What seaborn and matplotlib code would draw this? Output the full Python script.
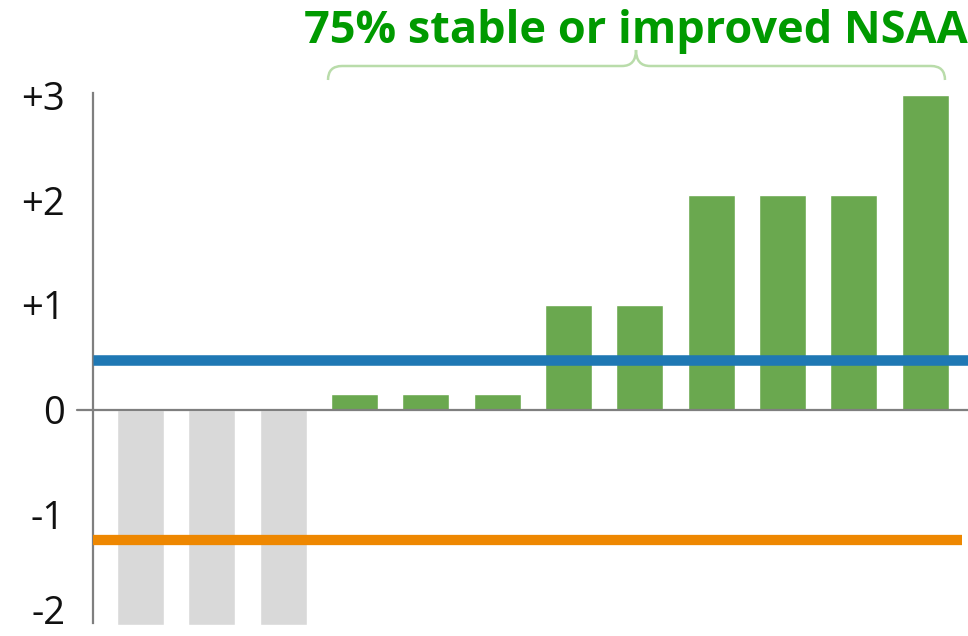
import matplotlib
matplotlib.use("Agg")
import matplotlib.pyplot as plt
import matplotlib.transforms as mtransforms
from matplotlib.path import Path
from matplotlib.patches import PathPatch
import seaborn as sns
import pandas as pd

# Per-patient change in NSAA score, sorted ascending
patients = [f"P{i}" for i in range(1, 13)]
nsaa_change = [-2.05, -2.05, -2.05, 0.15, 0.15, 0.15, 1.0, 1.0, 2.05, 2.05, 2.05, 3.0]
outcome = ["declined"] * 3 + ["stable/improved"] * 9

# Reference lines
treated_mean = 0.48
natural_history_mean = -1.24

y_ticks = [-2, -1, 0, 1, 2, 3]
y_tick_labels = ["-2", "-1", "0", "+1", "+2", "+3"]
headline = "75% stable or improved NSAA"

palette = {"declined": "#d9d9d9", "stable/improved": "#6aa84f"}
BLUE = "#1f78b4"
ORANGE = "#ee8700"
TITLE_GREEN = "#009a00"
BRACE_GREEN = "#b9dcaa"
AXIS_GREY = "#7f7f7f"

sns.set_theme(style="white")
plt.rcParams["font.family"] = ["Open Sans", "DejaVu Sans"]

W, H = 968, 636
fig = plt.figure(figsize=(W / 100, H / 100), dpi=100)
ax_left, ax_right, ax_top, ax_bottom = 93, 968, 93, 625
ax = fig.add_axes([ax_left / W, 1 - ax_bottom / H,
                   (ax_right - ax_left) / W, (ax_bottom - ax_top) / H])

df = pd.DataFrame({"patient": patients, "change": nsaa_change, "outcome": outcome})
sns.barplot(data=df, x="patient", y="change", hue="outcome", palette=palette,
            dodge=False, width=0.66, saturation=1, legend=False, ax=ax, zorder=2)

ax.set_xlim(-0.666, 11.6)
ax.set_ylim(-2.05, 3.02)

# zero baseline, slightly extended past the left spine
ax.axhline(0, xmin=-16 / (ax_right - ax_left), xmax=1, color=AXIS_GREY,
           lw=1.6, clip_on=False, zorder=3)

ax.axhline(treated_mean, color=BLUE, lw=7.6, zorder=4, solid_capstyle="butt")
ax.axhline(natural_history_mean, xmax=0.993, color=ORANGE, lw=7.4, zorder=4,
           solid_capstyle="butt")

for s in ["top", "right", "bottom"]:
    ax.spines[s].set_visible(False)
ax.spines["left"].set_color(AXIS_GREY)
ax.spines["left"].set_linewidth(1.6)
ax.spines["left"].set_bounds(-2.03, 3.02)

ax.set_xticks([])
ax.set_xlabel("")
ax.set_ylabel("")
ax.set_yticks(y_ticks)
ax.set_yticklabels(y_tick_labels, fontsize=27.5, color="#111111")
ax.tick_params(axis="y", length=0, pad=20)
# lowest label sits on the canvas edge, nudged down a little
lowest = ax.get_yticklabels()[0]
lowest.set_va("bottom")
lowest.set_transform(lowest.get_transform() +
                     mtransforms.ScaledTranslation(0, -0.13, fig.dpi_scale_trans))

# headline and curly brace spanning the stable/improved patients
fig.text(636 / W, 1 - 32 / H, headline, ha="center", va="center",
         fontsize=32.5, fontweight="bold", color=TITLE_GREEN)


def px(x, y):
    return (x / W, 1 - y / H)


x0, x1, xm = 328, 945, 636
yb, ye, yt = 66, 80, 50
r = 14
brace = Path(
    [px(x0, ye), px(x0, yb), px(x0 + r, yb),
     px(xm - r, yb),
     px(xm, yb), px(xm, yt),
     px(xm, yb), px(xm + r, yb),
     px(x1 - r, yb),
     px(x1, yb), px(x1, ye)],
    [Path.MOVETO, Path.CURVE3, Path.CURVE3,
     Path.LINETO,
     Path.CURVE3, Path.CURVE3,
     Path.CURVE3, Path.CURVE3,
     Path.LINETO,
     Path.CURVE3, Path.CURVE3])
fig.patches.append(PathPatch(brace, transform=fig.transFigure, fill=False,
                             edgecolor=BRACE_GREEN, lw=1.8))

fig.savefig("out.png", dpi=100)
